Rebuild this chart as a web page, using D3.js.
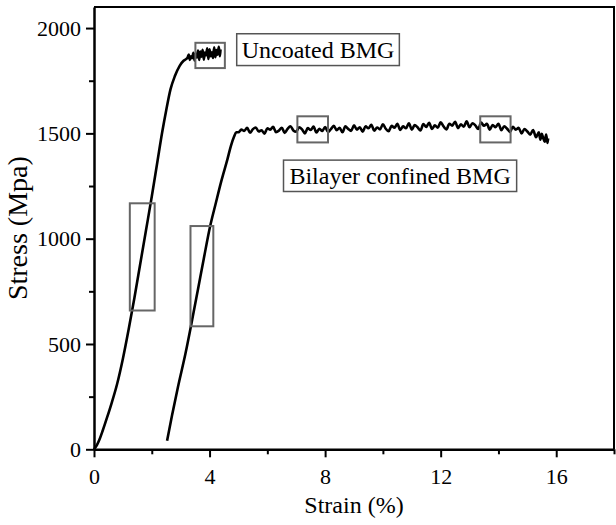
<!DOCTYPE html>
<html>
<head>
<meta charset="utf-8">
<script src="https://cdn.jsdelivr.net/npm/d3@7"></script>
<style>
  body { margin: 0; background: #fff; }
  text { font-family: "Liberation Serif", "Times New Roman", serif; fill: #000; }
</style>
</head>
<body>
<div id="chart"></div>
<script>
// strain (%) / stress (MPa)
var uncoated = [
  [0, 0], [0.1, 20], [0.2, 50], [0.3, 88], [0.45, 150], [0.6, 215], [0.8, 310], [1.0, 430],
  [1.2, 570], [1.4, 720], [1.6, 880], [1.8, 1040], [2.0, 1200], [2.2, 1370], [2.36, 1505],
  [2.5, 1610], [2.65, 1710], [2.8, 1772], [2.97, 1822], [3.1, 1845], [3.2, 1854],
  [3.24, 1860], [3.28, 1874], [3.32, 1849], [3.36, 1866], [3.40, 1858], [3.44, 1882],
  [3.48, 1846], [3.52, 1879], [3.56, 1860], [3.60, 1893], [3.64, 1849], [3.68, 1888],
  [3.72, 1864], [3.76, 1897], [3.80, 1850], [3.84, 1884], [3.88, 1871], [3.92, 1904],
  [3.96, 1853], [4.00, 1899], [4.04, 1866], [4.08, 1885], [4.12, 1858], [4.16, 1909],
  [4.20, 1862], [4.24, 1896], [4.28, 1874], [4.32, 1911], [4.36, 1866], [4.38, 1898]
];

var bilayer = [
  [2.53, 41], [2.7, 160], [2.91, 298], [3.17, 457], [3.4, 616], [3.6, 760], [3.8, 905],
  [4.02, 1059], [4.2, 1160], [4.4, 1270], [4.62, 1378], [4.74, 1441], [4.85, 1485], [4.92, 1505],
  [5.0, 1505], [5.1, 1518], [5.2, 1512], [5.3, 1526], [5.4, 1503], [5.5, 1520], [5.6, 1528],
  [5.7, 1509], [5.8, 1515], [5.9, 1498], [6.0, 1524], [6.1, 1517], [6.2, 1531], [6.3, 1506],
  [6.4, 1513], [6.5, 1527], [6.6, 1502], [6.7, 1521], [6.8, 1534], [6.9, 1514], [7.0, 1508],
  [7.1, 1529], [7.2, 1519], [7.3, 1500], [7.4, 1525], [7.5, 1516], [7.6, 1532], [7.7, 1504],
  [7.8, 1522], [7.9, 1511], [8.0, 1530], [8.1, 1507], [8.2, 1520], [8.3, 1536], [8.4, 1515],
  [8.5, 1527], [8.6, 1505], [8.7, 1533], [8.8, 1521], [8.9, 1512], [9.0, 1538], [9.1, 1518],
  [9.2, 1529], [9.3, 1508], [9.4, 1534], [9.5, 1524], [9.6, 1541], [9.7, 1513], [9.8, 1528],
  [9.9, 1519], [10.0, 1543], [10.1, 1522], [10.2, 1510], [10.3, 1536], [10.4, 1527], [10.5, 1545],
  [10.6, 1516], [10.7, 1533], [10.8, 1524], [10.9, 1548], [11.0, 1518], [11.1, 1539], [11.2, 1529],
  [11.3, 1514], [11.4, 1544], [11.5, 1531], [11.6, 1550], [11.7, 1521], [11.8, 1538], [11.9, 1527],
  [12.0, 1552], [12.1, 1533], [12.2, 1519], [12.3, 1546], [12.4, 1537], [12.5, 1555], [12.6, 1525],
  [12.7, 1543], [12.8, 1532], [12.9, 1557], [13.0, 1529], [13.1, 1548], [13.2, 1538], [13.3, 1521],
  [13.4, 1551], [13.5, 1536], [13.6, 1545], [13.7, 1518], [13.8, 1540], [13.9, 1529], [14.0, 1546],
  [14.1, 1515], [14.2, 1534], [14.3, 1522], [14.4, 1507], [14.5, 1531], [14.6, 1518], [14.7, 1526],
  [14.8, 1500], [14.9, 1521], [15.0, 1509], [15.1, 1494], [15.2, 1516], [15.3, 1482], [15.4, 1505],
  [15.45, 1470], [15.5, 1498], [15.55, 1478], [15.6, 1460], [15.65, 1494], [15.7, 1455], [15.72, 1476]
];

var strainTicks = [0, 4, 8, 12, 16];
var strainMinor = [2, 6, 10, 14, 18];
var stressTicks = [0, 500, 1000, 1500, 2000];
var stressMinor = [250, 750, 1250, 1750];

// highlighted regions [x0, x1, y0, y1] in data units
var markBoxes = [
  [1.24, 2.10, 659, 1168],
  [3.34, 4.13, 584, 1060],
  [3.51, 4.53, 1810, 1930],
  [7.04, 8.10, 1457, 1581],
  [13.37, 14.42, 1457, 1581]
];
var labels = [
  { text: "Uncoated BMG", box: [4.94, 10.57, 1822, 1973] },
  { text: "Bilayer confined BMG", box: [6.56, 14.63, 1224, 1373] }
];

function drawChart() {
  var width = 616, height = 525;
  var mLeft = 94, mRight = 614, mTop = 7, mBottom = 449.3;

  var svg = d3.select("#chart").append("svg")
      .attr("width", width)
      .attr("height", height);

  var x = d3.scaleLinear().domain([0, 18]).range([mLeft, mRight]);
  var y = d3.scaleLinear().domain([0, 2100]).range([mBottom, mTop]);

  // frame top / right
  svg.append("path")
      .attr("d", "M" + mLeft + "," + mTop + "H" + mRight + "V" + mBottom)
      .attr("fill", "none")
      .attr("stroke", "#000")
      .attr("stroke-width", 2);

  // minor ticks
  svg.append("g")
      .attr("transform", "translate(0," + mBottom + ")")
      .call(d3.axisBottom(x).tickValues(strainMinor).tickSize(5).tickSizeOuter(0).tickFormat(""))
      .call(g => g.select(".domain").remove())
      .selectAll("line").attr("stroke-width", 2);
  svg.append("g")
      .attr("transform", "translate(" + mLeft + ",0)")
      .call(d3.axisLeft(y).tickValues(stressMinor).tickSize(5).tickSizeOuter(0).tickFormat(""))
      .call(g => g.select(".domain").remove())
      .selectAll("line").attr("stroke-width", 2);

  // major axes
  var xAxis = svg.append("g")
      .attr("transform", "translate(0," + mBottom + ")")
      .call(d3.axisBottom(x).tickValues(strainTicks).tickSize(8).tickSizeOuter(0).tickPadding(10));
  var yAxis = svg.append("g")
      .attr("transform", "translate(" + mLeft + ",0)")
      .call(d3.axisLeft(y).tickValues(stressTicks).tickSize(8).tickSizeOuter(0).tickPadding(5)
        .tickFormat(d3.format("d")));

  [xAxis, yAxis].forEach(function(ax) {
    ax.select(".domain").attr("stroke-width", 2.5);
    ax.selectAll(".tick line").attr("stroke-width", 2);
    ax.selectAll(".tick text")
        .style("font-family", '"Liberation Serif", serif')
        .style("font-size", "22px");
  });
  xAxis.selectAll(".tick text").attr("dy", "0.75em");

  // axis titles
  svg.append("text")
      .attr("x", (mLeft + mRight) / 2)
      .attr("y", 513)
      .attr("text-anchor", "middle")
      .style("font-size", "24px")
      .text("Strain (%)");
  svg.append("text")
      .attr("transform", "translate(27," + ((mTop + mBottom) / 2) + ") rotate(-90)")
      .attr("text-anchor", "middle")
      .style("font-size", "28px")
      .text("Stress (Mpa)");

  // curves
  var line = d3.line()
      .x(function(d) { return x(d[0]); })
      .y(function(d) { return y(d[1]); })
      .curve(d3.curveMonotoneX);

  [uncoated, bilayer].forEach(function(s) {
    svg.append("path")
        .datum(s)
        .attr("d", line)
        .attr("fill", "none")
        .attr("stroke", "#000")
        .attr("stroke-width", 2.6)
        .attr("stroke-linejoin", "round");
  });

  // gray highlight boxes
  svg.selectAll(".mark-box")
      .data(markBoxes)
      .enter().append("rect")
      .attr("class", "mark-box")
      .attr("x", function(d) { return x(d[0]); })
      .attr("y", function(d) { return y(d[3]); })
      .attr("width", function(d) { return x(d[1]) - x(d[0]); })
      .attr("height", function(d) { return y(d[2]) - y(d[3]); })
      .attr("fill", "none")
      .attr("stroke", "#666")
      .attr("stroke-width", 2);

  // labels in boxes
  var lab = svg.selectAll(".label")
      .data(labels)
      .enter().append("g")
      .attr("class", "label");
  lab.append("rect")
      .attr("x", function(d) { return x(d.box[0]); })
      .attr("y", function(d) { return y(d.box[3]); })
      .attr("width", function(d) { return x(d.box[1]) - x(d.box[0]); })
      .attr("height", function(d) { return y(d.box[2]) - y(d.box[3]); })
      .attr("fill", "none")
      .attr("stroke", "#555")
      .attr("stroke-width", 1.5);
  lab.append("text")
      .attr("x", function(d) { return (x(d.box[0]) + x(d.box[1])) / 2; })
      .attr("y", function(d) { return (y(d.box[2]) + y(d.box[3])) / 2 + 8; })
      .attr("text-anchor", "middle")
      .style("font-size", "24px")
      .text(function(d) { return d.text; });
}

drawChart();
</script>
</body>
</html>
